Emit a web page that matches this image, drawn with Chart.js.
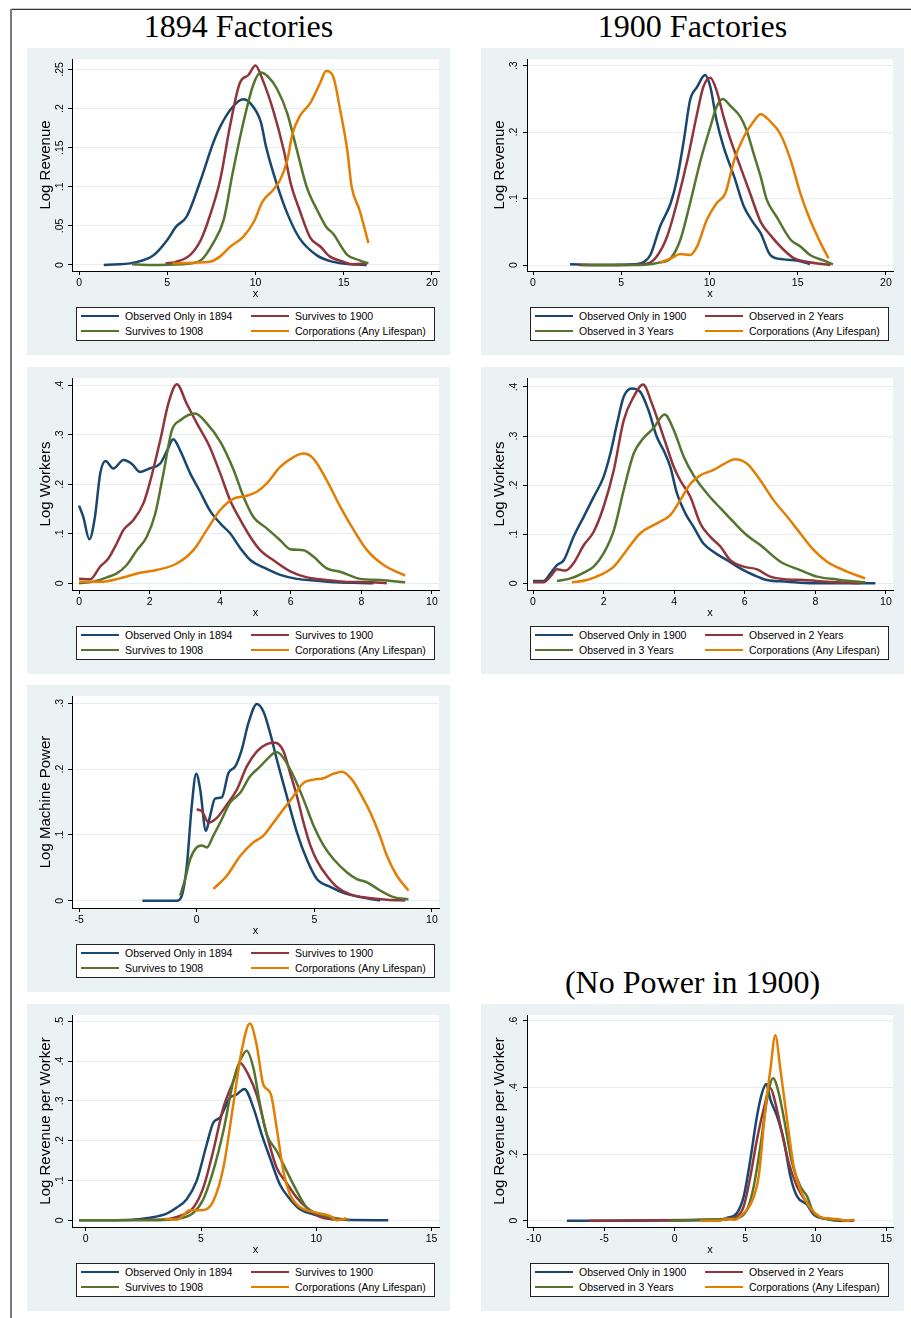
<!DOCTYPE html>
<html>
<head>
<meta charset="utf-8">
<script src="https://cdn.jsdelivr.net/npm/chart.js@4.4.0/dist/chart.umd.min.js"></script>
<style>
body { margin: 0; background: #fff; }
#page { position: relative; width: 911px; height: 1318px; overflow: hidden; font-family: "Liberation Sans", Arial, sans-serif; }
.frame-top { position: absolute; left: 11px; top: 9px; right: 0; height: 1px; background: #333; box-shadow: 0 -1px 0 #c8c8c8; }
.frame-left { position: absolute; left: 10px; top: 9px; bottom: 0; width: 2px; background: #7a7a7a; }
.title { position: absolute; width: 423px; text-align: center; font-family: "Liberation Serif", serif; font-size: 32px; line-height: 1; color: #000; }
.panel { position: absolute; width: 423px; height: 307px; background: #EAF2F3; }
.panel canvas { position: absolute; left: 0; top: 0; }
.legend { position: absolute; left: 49px; top: 259px; width: 359px; height: 34px; box-sizing: border-box; border: 1px solid #222; background: #fff; }
.legend .sw { position: absolute; width: 38px; height: 2px; }
.legend .lb { position: absolute; font-size: 10.5px; line-height: 12px; color: #000; white-space: nowrap; }
</style>
</head>
<body>
<div id="page">
  <div class="frame-top"></div>
  <div class="frame-left"></div>
  <div class="title" style="left:27px; top:10px;">1894 Factories</div>
  <div class="title" style="left:481px; top:10px;">1900 Factories</div>
  <div class="title" style="left:481px; top:966px;">(No Power in 1900)</div>
</div>
<script>
// series labels
const labels1894 = ['Observed Only in 1894', 'Survives to 1900', 'Survives to 1908', 'Corporations (Any Lifespan)'];
const labels1900 = ['Observed Only in 1900', 'Observed in 2 Years', 'Observed in 3 Years', 'Corporations (Any Lifespan)'];

// Log Revenue, 1894 (x, density)
const rev94Only = [[1.4,0],[3.1,.003],[4.2,.012],[5.0,.032],[5.5,.049],[6.1,.062],[6.9,.109],[7.6,.156],[8.0,.177],[8.7,.202],[9.3,.212],[9.7,.207],[10.3,.183],[10.6,.151],[11.2,.104],[11.8,.066],[12.5,.034],[13.5,.012],[14.4,.004],[15.4,.001],[16.3,0]];
const rev94To1900 = [[4.9,.002],[5.5,.004],[6.3,.013],[6.9,.032],[7.4,.062],[8.0,.109],[8.55,.177],[9.1,.232],[9.6,.243],[10.0,.255],[10.4,.237],[11.0,.198],[11.6,.147],[12.0,.104],[12.5,.070],[13.1,.035],[13.7,.023],[14.2,.011],[15.0,.004],[15.5,.001],[16.3,.002]];
const rev94To1908 = [[3.0,.001],[4.0,0],[5.9,.001],[6.9,.006],[7.6,.028],[8.2,.058],[8.7,.117],[9.3,.181],[9.9,.232],[10.3,.246],[10.7,.241],[11.2,.226],[11.8,.194],[12.3,.151],[12.9,.100],[13.5,.070],[14.0,.049],[14.4,.040],[15.2,.013],[15.9,.006],[16.4,.002]];
const rev94Corp = [[5.3,.002],[6.5,.003],[7.4,.004],[8.0,.011],[8.55,.023],[9.3,.036],[9.9,.055],[10.4,.081],[11.0,.096],[11.4,.109],[11.8,.134],[12.1,.168],[12.5,.190],[13.1,.207],[13.65,.232],[14.0,.248],[14.4,.241],[14.8,.198],[15.2,.147],[15.45,.100],[15.9,.070],[16.4,.028]];

// Log Revenue, 1900
const rev00Only = [[2.1,.001],[4.4,0],[5.7,.001],[6.3,.005],[6.65,.015],[7.2,.058],[7.8,.093],[8.15,.128],[8.55,.188],[8.9,.248],[9.3,.268],[9.75,.286],[10.05,.268],[10.4,.218],[10.8,.178],[11.4,.133],[11.95,.088],[12.5,.063],[12.9,.048],[13.45,.015],[14.2,.0085],[15.0,.0065],[15.7,.0015]];
const rev00Two = [[2.6,0],[5.3,0],[6.5,.0025],[7.0,.0125],[7.6,.043],[8.15,.093],[8.75,.158],[9.3,.228],[9.65,.268],[10.05,.282],[10.4,.263],[10.8,.223],[11.2,.188],[11.75,.148],[12.3,.108],[12.9,.065],[13.45,.045],[14.2,.023],[14.8,.010],[15.5,.005],[16.85,0]];
const rev00Three = [[2.8,0],[6.1,0],[7.2,.004],[7.8,.010],[8.35,.038],[8.9,.093],[9.5,.158],[10.05,.208],[10.4,.238],[10.75,.250],[11.2,.239],[11.75,.223],[12.1,.203],[12.5,.168],[12.9,.133],[13.25,.098],[13.8,.073],[14.6,.038],[15.15,.028],[15.7,.015],[16.5,.0065],[17.0,.001]];
const rev00Corp = [[7.2,.0035],[7.8,.010],[8.35,.0165],[8.9,.015],[9.3,.028],[9.85,.068],[10.4,.093],[10.9,.108],[11.4,.158],[11.95,.193],[12.5,.216],[12.9,.227],[13.45,.216],[14.0,.198],[14.6,.158],[15.15,.108],[15.7,.068],[16.3,.033],[16.75,.010]];

// Log Workers, 1894
const wk94Only = [[0,.157],[0.12,.134],[0.29,.089],[0.45,.134],[0.6,.222],[0.75,.247],[0.97,.232],[1.26,.249],[1.5,.241],[1.73,.225],[2.0,.232],[2.3,.242],[2.5,.269],[2.67,.291],[2.86,.269],[3.15,.222],[3.43,.185],[3.7,.148],[4.0,.121],[4.28,.101],[4.57,.071],[4.85,.047],[5.23,.032],[5.7,.017],[6.17,.009],[6.74,.0054],[7.3,.002],[7.97,.0007],[8.35,0]];
const wk94To1900 = [[0,.009],[0.31,.008],[0.6,.034],[0.83,.050],[1.07,.081],[1.26,.108],[1.54,.128],[1.82,.161],[2.0,.202],[2.3,.289],[2.53,.363],[2.77,.402],[3.05,.363],[3.34,.323],[3.7,.276],[4.0,.222],[4.28,.168],[4.57,.128],[4.85,.094],[5.13,.067],[5.5,.047],[6.0,.0235],[6.46,.012],[7.0,.0067],[7.6,.0027],[8.16,.0027],[8.72,0]];
const wk94To1908 = [[0,0],[0.41,.0034],[0.78,.012],[1.07,.020],[1.35,.037],[1.64,.067],[1.92,.094],[2.16,.141],[2.39,.222],[2.63,.309],[2.86,.329],[3.29,.343],[3.62,.323],[4.0,.286],[4.38,.229],[4.66,.175],[4.94,.134],[5.32,.111],[5.7,.087],[5.98,.069],[6.36,.067],[6.64,.054],[7.02,.030],[7.4,.0235],[7.97,.009],[8.53,.0067],[9.24,.002]];
const wk94Corp = [[0,.003],[0.6,.003],[1.16,.010],[1.73,.0215],[2.2,.027],[2.77,.040],[3.24,.067],[3.62,.108],[4.0,.148],[4.38,.171],[4.75,.177],[5.04,.185],[5.32,.202],[5.7,.235],[6.08,.255],[6.36,.262],[6.64,.252],[7.02,.208],[7.4,.155],[7.78,.108],[8.16,.067],[8.63,.037],[9.24,.0155]];

// Log Workers, 1900
const wk00Only = [[0,.0047],[0.3,.0047],[0.49,.020],[0.68,.037],[0.87,.047],[1.15,.095],[1.44,.136],[1.72,.176],[2.0,.217],[2.19,.264],[2.38,.325],[2.57,.380],[2.8,.397],[3.04,.390],[3.27,.353],[3.51,.298],[3.7,.271],[3.89,.237],[4.08,.183],[4.32,.142],[4.55,.115],[4.83,.081],[5.12,.064],[5.5,.047],[5.87,.0305],[6.25,.017],[6.63,.0068],[7.2,.0034],[7.95,0],[9.7,0]];
const wk00Two = [[0,.002],[0.3,.002],[0.49,.0136],[0.68,.0285],[0.92,.026],[1.15,.041],[1.44,.078],[1.72,.105],[2.0,.156],[2.29,.231],[2.57,.332],[2.85,.380],[3.12,.405],[3.37,.366],[3.7,.298],[3.99,.237],[4.17,.210],[4.46,.176],[4.74,.122],[5.02,.095],[5.31,.075],[5.59,.047],[5.97,.034],[6.35,.0285],[6.72,.0136],[7.2,.008],[7.67,.0068],[8.33,.0034],[9.27,0]];
const wk00Three = [[0.68,.0047],[1.06,.010],[1.44,.022],[1.72,.034],[2.0,.061],[2.29,.108],[2.57,.190],[2.85,.264],[3.12,.295],[3.4,.315],[3.73,.344],[3.99,.312],[4.27,.258],[4.55,.220],[4.93,.183],[5.31,.153],[5.68,.125],[6.06,.098],[6.44,.078],[7.01,.044],[7.57,.027],[8.05,.0136],[8.61,.008],[9.41,.002]];
const wk00Corp = [[1.1,.002],[1.53,.0068],[1.91,.017],[2.29,.034],[2.66,.068],[3.04,.102],[3.51,.122],[3.89,.139],[4.17,.169],[4.46,.203],[4.74,.220],[5.12,.231],[5.4,.243],[5.73,.253],[6.06,.244],[6.44,.210],[6.82,.169],[7.2,.136],[7.57,.102],[7.95,.068],[8.33,.044],[8.8,.027],[9.41,.010]];

// Log Machine Power, 1894
const pw94Only = [[-2.31,0],[-0.85,0],[-0.63,.008],[-0.42,.053],[-0.21,.144],[-0.02,.193],[0.15,.169],[0.39,.106],[0.57,.129],[0.78,.155],[1.07,.157],[1.35,.194],[1.64,.204],[1.92,.230],[2.2,.270],[2.56,.299],[2.84,.287],[3.12,.255],[3.41,.214],[3.83,.159],[4.26,.104],[4.68,.063],[5.11,.033],[5.68,.021],[6.24,.012],[6.95,.0055],[7.8,.0005]];
const pw94To1900 = [[0,.139],[0.22,.136],[0.5,.119],[0.86,.126],[1.28,.146],[1.71,.169],[2.13,.204],[2.56,.227],[2.98,.238],[3.34,.240],[3.69,.227],[3.97,.194],[4.26,.159],[4.54,.119],[4.83,.084],[5.11,.061],[5.53,.038],[5.96,.021],[6.53,.0096],[7.24,.0045],[8.09,.0015],[8.87,.0005]];
const pw94To1908 = [[-0.7,.008],[-0.49,.033],[-0.28,.063],[0,.081],[0.22,.084],[0.43,.081],[0.71,.099],[1.07,.124],[1.42,.149],[1.85,.164],[2.27,.189],[2.7,.204],[3.05,.217],[3.38,.226],[3.69,.217],[4.12,.189],[4.54,.154],[4.97,.114],[5.39,.084],[5.82,.063],[6.39,.043],[6.81,.033],[7.24,.028],[7.8,.0156],[8.37,.0055],[9.0,.002]];
const pw94Corp = [[0.71,.018],[1.28,.038],[1.85,.068],[2.42,.089],[2.84,.099],[3.27,.119],[3.69,.139],[4.12,.159],[4.54,.179],[4.97,.184],[5.39,.186],[5.82,.193],[6.17,.196],[6.6,.184],[7.02,.159],[7.38,.134],[7.73,.104],[8.09,.068],[8.51,.038],[9.0,.0156]];

// Log Revenue per Worker, 1894
const rpw94Only = [[-0.29,0],[2.07,.0017],[2.79,.0067],[3.51,.0167],[3.95,.032],[4.38,.053],[4.81,.099],[5.25,.191],[5.53,.245],[5.82,.258],[6.26,.308],[6.55,.316],[6.88,.330],[7.27,.283],[7.63,.216],[7.99,.157],[8.42,.090],[8.86,.053],[9.29,.0276],[9.87,.015],[10.74,.0025],[13.12,0]];
const rpw94To1900 = [[2.07,.0017],[3.22,.0017],[4.09,.011],[4.67,.032],[5.1,.082],[5.53,.174],[5.97,.283],[6.4,.349],[6.69,.395],[7.05,.366],[7.41,.316],[7.85,.216],[8.28,.132],[8.71,.094],[9.15,.057],[9.58,.032],[10.16,.0084],[10.74,.0025]];
const rpw94To1908 = [[-0.29,0],[0.62,0],[2.79,0],[4.09,.005],[4.67,.019],[5.1,.053],[5.53,.124],[5.97,.224],[6.4,.349],[6.69,.400],[6.98,.426],[7.27,.383],[7.56,.291],[7.85,.216],[8.28,.174],[8.71,.124],[9.15,.074],[9.58,.032],[10.16,.015],[10.74,.0067],[11.46,0]];
const rpw94Corp = [[3.44,.004],[3.95,.0017],[4.52,.025],[5.1,.026],[5.53,.048],[5.97,.132],[6.4,.291],[6.76,.425],[7.12,.494],[7.41,.441],[7.7,.341],[8.02,.318],[8.28,.232],[8.57,.124],[8.86,.065],[9.15,.040],[9.44,.028],[10.01,.019],[10.59,.011],[10.88,0],[11.3,.005]];

// Log Revenue per Worker, 1900 (no power)
const rpw00Only = [[-7.64,0],[3.23,.003],[3.7,.008],[4.41,.023],[4.89,.073],[5.36,.184],[5.83,.314],[6.19,.384],[6.49,.411],[6.78,.364],[7.25,.314],[7.72,.244],[8.2,.133],[8.67,.073],[9.38,.048],[9.85,.018],[10.79,.005],[11.74,0],[12.68,0]];
const rpw00Two = [[-6.1,0],[3.23,.003],[4.41,.013],[4.89,.043],[5.36,.133],[5.83,.244],[6.3,.334],[6.78,.399],[7.13,.354],[7.6,.264],[8.08,.174],[8.67,.103],[9.38,.053],[10.09,.015],[11.03,.005],[12.21,0]];
const rpw00Three = [[-0.43,0],[3.7,.005],[4.41,.008],[5.12,.033],[5.6,.103],[6.07,.224],[6.54,.364],[6.97,.428],[7.37,.384],[7.84,.284],[8.31,.174],[8.9,.103],[9.38,.073],[9.85,.023],[10.79,.005],[11.5,0]];
const rpw00Corp = [[1.81,0],[3.23,0],[3.7,.006],[4.3,.003],[4.77,.018],[5.36,.048],[5.95,.133],[6.42,.334],[6.78,.454],[7.13,.557],[7.49,.454],[7.96,.304],[8.43,.164],[8.9,.093],[9.61,.038],[10.32,.011],[10.79,.007],[11.5,.005],[12.21,0],[12.76,.003]];

// axis ticks
const xTicks20 = [0, 5, 10, 15, 20];
const xTicks10 = [0, 2, 4, 6, 8, 10];
const xTicksPow = [-5, 0, 5, 10];
const xTicks15 = [0, 5, 10, 15];
const xTicksWide = [-10, -5, 0, 5, 10, 15];
const yTicksRev94 = [0, .05, .1, .15, .2, .25];
const yLabelsRev94 = ['0', '.05', '.1', '.15', '.2', '.25'];
const yTicks3 = [0, .1, .2, .3];
const yLabels3 = ['0', '.1', '.2', '.3'];
const yTicks4 = [0, .1, .2, .3, .4];
const yLabels4 = ['0', '.1', '.2', '.3', '.4'];
const yTicks5 = [0, .1, .2, .3, .4, .5];
const yLabels5 = ['0', '.1', '.2', '.3', '.4', '.5'];
const yTicks6 = [0, .2, .4, .6];
const yLabels6 = ['0', '.2', '.4', '.6'];

const COLORS = ['#1A476F', '#90353B', '#55752F', '#E37E00'];
const GRID = '#E4EEF0';

// white plot region
const plotBg = {
    id: 'plotBg',
    beforeDraw(chart) {
        const a = chart.chartArea, ctx = chart.ctx;
        ctx.save();
        ctx.fillStyle = '#fff';
        ctx.fillRect(a.left, a.top, a.right - a.left, a.bottom - a.top);
        ctx.restore();
    }
};

// vertical y tick labels, Stata style
const yLabels = {
    id: 'yLabels',
    afterDraw(chart, args, opts) {
        const ys = chart.scales.y, ctx = chart.ctx;
        ctx.save();
        ctx.fillStyle = '#000';
        ctx.font = '10.5px "Liberation Sans", Arial, sans-serif';
        ctx.textAlign = 'center';
        ctx.textBaseline = 'middle';
        opts.values.forEach((v, i) => {
            ctx.save();
            ctx.translate(opts.x, ys.getPixelForValue(v));
            ctx.rotate(-Math.PI / 2);
            ctx.fillText(opts.labels[i], 0, 0);
            ctx.restore();
        });
        ctx.restore();
    }
};

function addLegend(panel, labels) {
    const box = document.createElement('div');
    box.className = 'legend';
    const slots = [[4, 8], [174, 8], [4, 23], [174, 23]];
    labels.forEach((lab, i) => {
        const sw = document.createElement('div');
        sw.className = 'sw';
        sw.style.left = slots[i][0] + 'px';
        sw.style.top = (slots[i][1] - 1) + 'px';
        sw.style.background = COLORS[i];
        const tx = document.createElement('div');
        tx.className = 'lb';
        tx.style.left = (slots[i][0] + 44) + 'px';
        tx.style.top = (slots[i][1] - 6) + 'px';
        tx.textContent = lab;
        box.appendChild(sw);
        box.appendChild(tx);
    });
    panel.appendChild(box);
}

function makePanel(p) {
    const panel = document.createElement('div');
    panel.className = 'panel';
    panel.style.left = p.left + 'px';
    panel.style.top = p.top + 'px';
    const canvas = document.createElement('canvas');
    canvas.width = 423;
    canvas.height = 307;
    panel.appendChild(canvas);
    document.getElementById('page').appendChild(panel);
    addLegend(panel, p.labels);

    const font = { family: '"Liberation Sans", Arial, sans-serif' };
    new Chart(canvas, {
        type: 'line',
        data: {
            datasets: p.series.map((pts, i) => ({
                label: p.labels[i],
                data: pts.map(d => ({ x: d[0], y: d[1] })),
                borderColor: COLORS[i],
                borderWidth: 2.5,
                pointRadius: 0,
                fill: false,
                cubicInterpolationMode: 'monotone',
                order: 3 - i
            }))
        },
        options: {
            responsive: false,
            animation: false,
            devicePixelRatio: 1,
            layout: { padding: { left: 0, top: 11, right: 11, bottom: 0 } },
            plugins: {
                legend: { display: false },
                tooltip: { enabled: false },
                yLabels: { values: p.yTicks, labels: p.yLabels, x: 33 }
            },
            scales: {
                x: {
                    type: 'linear',
                    min: p.xMin,
                    max: p.xMax,
                    afterBuildTicks: s => { s.ticks = p.xTicks.map(v => ({ value: v })); },
                    afterFit: s => { s.height = 84; },
                    ticks: {
                        autoSkip: false, maxRotation: 0, padding: 2, color: '#000',
                        font: Object.assign({ size: 10.5 }, font),
                        callback: v => String(v)
                    },
                    grid: { drawOnChartArea: false, drawTicks: true, tickLength: 4, tickColor: '#000' },
                    border: { color: '#000', width: 1 },
                    title: {
                        display: true, text: 'x', color: '#000',
                        font: Object.assign({ size: 11 }, font),
                        padding: { top: 0, bottom: 54 }
                    }
                },
                y: {
                    type: 'linear',
                    min: p.yMin,
                    max: p.yMax,
                    afterBuildTicks: s => { s.ticks = p.yTicks.map(v => ({ value: v })); },
                    afterFit: s => { s.width = p.axisW; },
                    ticks: { display: false },
                    grid: { color: GRID, lineWidth: 1, drawTicks: true, tickLength: 4, tickColor: '#000' },
                    border: { color: '#000', width: 1 },
                    title: {
                        display: true, text: p.yTitle, color: '#000',
                        font: Object.assign({ size: 15 }, font),
                        padding: { top: 10, bottom: 0 }
                    }
                }
            }
        },
        plugins: [plotBg, yLabels]
    });
}

makePanel({ left: 27, top: 48, axisW: 45, labels: labels1894, yTitle: 'Log Revenue',
    series: [rev94Only, rev94To1900, rev94To1908, rev94Corp],
    xMin: -0.4, xMax: 20.4, xTicks: xTicks20,
    yMin: -0.0077, yMax: 0.2634, yTicks: yTicksRev94, yLabels: yLabelsRev94 });

makePanel({ left: 481, top: 48, axisW: 46, labels: labels1900, yTitle: 'Log Revenue',
    series: [rev00Only, rev00Two, rev00Three, rev00Corp],
    xMin: -0.34, xMax: 20.4, xTicks: xTicks20,
    yMin: -0.009, yMax: 0.3101, yTicks: yTicks3, yLabels: yLabels3 });

makePanel({ left: 27, top: 367, axisW: 45, labels: labels1894, yTitle: 'Log Workers',
    series: [wk94Only, wk94To1900, wk94To1908, wk94Corp],
    xMin: -0.2, xMax: 10.2, xTicks: xTicks10,
    yMin: -0.0135, yMax: 0.4147, yTicks: yTicks4, yLabels: yLabels4 });

makePanel({ left: 481, top: 367, axisW: 46, labels: labels1900, yTitle: 'Log Workers',
    series: [wk00Only, wk00Two, wk00Three, wk00Corp],
    xMin: -0.17, xMax: 10.2, xTicks: xTicks10,
    yMin: -0.0136, yMax: 0.4183, yTicks: yTicks4, yLabels: yLabels4 });

makePanel({ left: 27, top: 685, axisW: 45, labels: labels1894, yTitle: 'Log Machine Power',
    series: [pw94Only, pw94To1900, pw94To1908, pw94Corp],
    xMin: -5.3, xMax: 10.3, xTicks: xTicksPow,
    yMin: -0.011, yMax: 0.311, yTicks: yTicks3, yLabels: yLabels3 });

makePanel({ left: 27, top: 1004, axisW: 45, labels: labels1894, yTitle: 'Log Revenue per Worker',
    series: [rpw94Only, rpw94To1900, rpw94To1908, rpw94Corp],
    xMin: -0.594, xMax: 15.32, xTicks: xTicks15,
    yMin: -0.0168, yMax: 0.5155, yTicks: yTicks5, yLabels: yLabels5 });

makePanel({ left: 481, top: 1004, axisW: 46, labels: labels1900, yTitle: 'Log Revenue per Worker',
    series: [rpw00Only, rpw00Two, rpw00Three, rpw00Corp],
    xMin: -10.47, xMax: 15.47, xTicks: xTicksWide,
    yMin: -0.019, yMax: 0.618, yTicks: yTicks6, yLabels: yLabels6 });
</script>
</body>
</html>
